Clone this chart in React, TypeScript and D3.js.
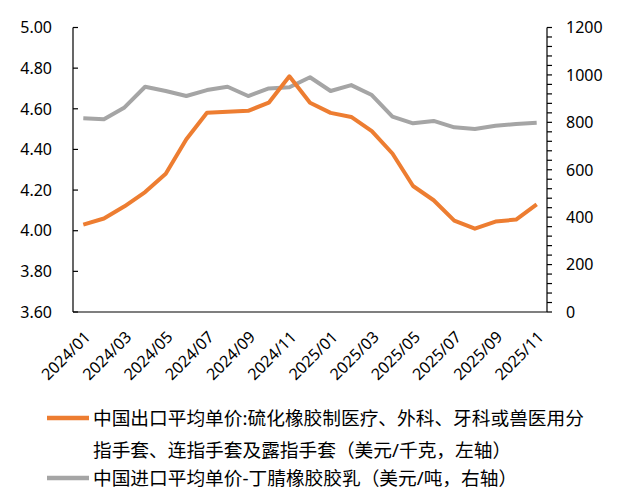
import { useEffect, useRef } from "react";
import { select, scaleBand, scaleLinear, line, range } from "d3";

const months = [
	"2024/01", "2024/02", "2024/03", "2024/04", "2024/05", "2024/06",
	"2024/07", "2024/08", "2024/09", "2024/10", "2024/11", "2024/12",
	"2025/01", "2025/02", "2025/03", "2025/04", "2025/05", "2025/06",
	"2025/07", "2025/08", "2025/09", "2025/10", "2025/11",
];

// 美元/千克, left axis
const exportPrice = [
	4.03, 4.06, 4.12, 4.19, 4.28, 4.45, 4.58, 4.585, 4.59, 4.63, 4.76, 4.63,
	4.58, 4.56, 4.49, 4.38, 4.22, 4.15, 4.05, 4.01, 4.045, 4.055, 4.13,
];

// 美元/吨, right axis
const importPrice = [
	817, 813, 863, 950, 932, 911, 936, 950, 911, 943, 948, 990,
	932, 957, 915, 824, 796, 806, 779, 772, 786, 793, 798,
];

const leftTicks = [3.6, 3.8, 4.0, 4.2, 4.4, 4.6, 4.8, 5.0];
const rightTicks = [0, 200, 400, 600, 800, 1000, 1200];
const xLabels = months.filter((_, i) => i % 2 === 0);

const legendItems = [
	{
		color: "#ED7D31",
		lines: [
			"中国出口平均单价:硫化橡胶制医疗、外科、牙科或兽医用分",
			"指手套、连指手套及露指手套（美元/千克，左轴）",
		],
	},
	{
		color: "#A5A5A5",
		lines: ["中国进口平均单价-丁腈橡胶胶乳（美元/吨，右轴）"],
	},
];

const W = 631;
const H = 503;
const plot = { left: 73, right: 547, top: 27.5, bottom: 312 };
const font = "'Noto Sans', 'Noto Sans CJK SC', sans-serif";

function drawChart(svgEl: SVGSVGElement) {
	const svg = select(svgEl);
	svg.selectAll("*").remove();

	const xScale = scaleBand().domain(months).range([plot.left, plot.right]);
	const cx = (m: string) => (xScale(m) ?? 0) + xScale.bandwidth() / 2;
	const yLeft = scaleLinear().domain([3.6, 5.0]).range([plot.bottom, plot.top]);
	const yRight = scaleLinear().domain([0, 1200]).range([plot.bottom, plot.top]);

	const axis = svg.append("g").attr("stroke", "#000").attr("stroke-width", 1.2);
	axis.append("line")
		.attr("x1", plot.left).attr("x2", plot.left)
		.attr("y1", plot.top).attr("y2", plot.bottom);
	axis.append("line")
		.attr("x1", plot.right).attr("x2", plot.right)
		.attr("y1", plot.top).attr("y2", plot.bottom);
	axis.append("line")
		.attr("x1", plot.left).attr("x2", plot.right)
		.attr("y1", plot.bottom).attr("y2", plot.bottom);

	axis.selectAll(".lt")
		.data(leftTicks)
		.enter()
		.append("line")
		.attr("x1", plot.left).attr("x2", plot.left + 5)
		.attr("y1", (d) => yLeft(d)).attr("y2", (d) => yLeft(d));

	axis.selectAll(".rt")
		.data(range(0, 1201, 40))
		.enter()
		.append("line")
		.attr("x1", plot.right).attr("x2", plot.right + 5)
		.attr("y1", (d) => yRight(d)).attr("y2", (d) => yRight(d));

	svg.append("g")
		.selectAll("text")
		.data(leftTicks)
		.enter()
		.append("text")
		.attr("x", 52)
		.attr("y", (d) => yLeft(d))
		.attr("dy", "0.36em")
		.attr("text-anchor", "end")
		.attr("font-size", 16)
		.attr("font-family", font)
		.text((d) => d.toFixed(2));

	svg.append("g")
		.selectAll("text")
		.data(rightTicks)
		.enter()
		.append("text")
		.attr("x", 566)
		.attr("y", (d) => yRight(d))
		.attr("dy", "0.36em")
		.attr("font-size", 16)
		.attr("font-family", font)
		.text((d) => String(d));

	svg.append("g")
		.selectAll("text")
		.data(xLabels)
		.enter()
		.append("text")
		.attr("transform", (d) => `translate(${cx(d) + 4},${plot.bottom + 22}) rotate(-45)`)
		.attr("dy", "0.36em")
		.attr("text-anchor", "end")
		.attr("font-size", 16)
		.attr("font-family", font)
		.text((d) => d);

	const grayLine = line<number>()
		.x((_, i) => cx(months[i]))
		.y((d) => yRight(d));
	svg.append("path")
		.attr("d", grayLine(importPrice))
		.attr("fill", "none")
		.attr("stroke", "#A5A5A5")
		.attr("stroke-width", 4)
		.attr("stroke-linejoin", "round");

	const orangeLine = line<number>()
		.x((_, i) => cx(months[i]))
		.y((d) => yLeft(d));
	svg.append("path")
		.attr("d", orangeLine(exportPrice))
		.attr("fill", "none")
		.attr("stroke", "#ED7D31")
		.attr("stroke-width", 4)
		.attr("stroke-linejoin", "round");

	const legend = svg.append("g").attr("font-family", font).attr("font-size", 18.7);
	let rowY = 418;
	legendItems.forEach((item) => {
		legend.append("line")
			.attr("x1", 47).attr("x2", 89)
			.attr("y1", rowY).attr("y2", rowY)
			.attr("stroke", item.color)
			.attr("stroke-width", 4.5);
		item.lines.forEach((t) => {
			legend.append("text")
				.attr("x", 93)
				.attr("y", rowY)
				.attr("dy", "0.36em")
				.attr("fill", "#000")
				.text(t);
			rowY += 32;
		});
		rowY -= 4;
	});
}

export default function App() {
	const svgRef = useRef<SVGSVGElement>(null);

	useEffect(() => {
		if (svgRef.current) drawChart(svgRef.current);
	}, []);

	return (
		<div style={{ position: "absolute", left: 0, top: 0 }}>
			<svg ref={svgRef} width={W} height={H} style={{ display: "block", background: "#fff" }} />
		</div>
	);
}
